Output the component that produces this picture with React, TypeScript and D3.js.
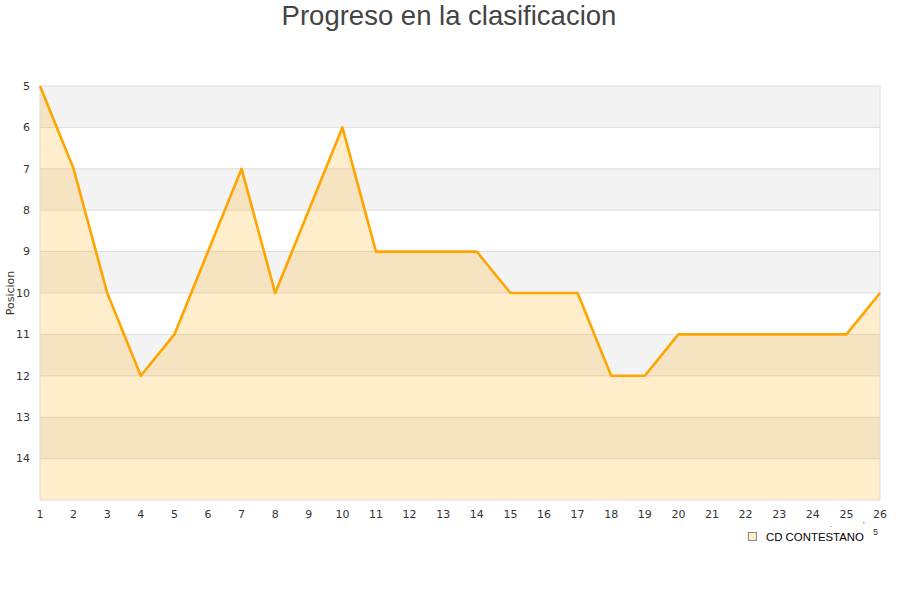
import React from "react";
import * as d3 from "d3";

const jornadas: number[] = d3.range(1, 27);
const posiciones: number[] = [5, 7, 10, 12, 11, 9, 7, 10, 8, 6, 9, 9, 9, 9, 10, 10, 10, 12, 12, 11, 11, 11, 11, 11, 11, 10];
const yTicks: number[] = [5, 6, 7, 8, 9, 10, 11, 12, 13, 14];
const bands: number[] = [5, 7, 9, 11, 13];
const title = "Progreso en la clasificacion";
const yLabel = "Posicion";
const seriesName = "CD CONTESTANO";

const W = 900, H = 600;
const M = { left: 40, right: 20, top: 86, bottom: 100 };

export default function App() {
  const x = d3.scaleLinear().domain([1, 26]).range([M.left, W - M.right]);
  const y = d3.scaleLinear().domain([5, 15]).range([M.top, H - M.bottom]);
  const line = d3.line<number>().x((_, i) => x(jornadas[i])).y((d) => y(d));
  const area = d3.area<number>().x((_, i) => x(jornadas[i])).y0(y(15)).y1((d) => y(d));
  const tickFont = "'DejaVu Sans', sans-serif";
  return (
    <svg width={W} height={H} style={{ position: "absolute", left: 0, top: 0, background: "#fff" }}>
      <text x={449} y={25} textAnchor="middle" fontFamily="'Liberation Sans', Arial, sans-serif" fontSize={27.5} fill="#444">{title}</text>
      {bands.map((b) => (
        <rect key={b} x={x(1)} y={y(b)} width={x(26) - x(1)} height={y(b + 1) - y(b)} fill="#f3f3f3" />
      ))}
      {yTicks.map((t) => (
        <line key={t} x1={x(1)} x2={x(26)} y1={y(t)} y2={y(t)} stroke="#dddddd" strokeWidth={1} />
      ))}
      <path d={area(posiciones) || ""} fill="#ffa500" fillOpacity={0.2} />
      <line x1={x(1)} x2={x(1)} y1={y(5)} y2={y(15)} stroke="#dddddd" />
      <line x1={x(26)} x2={x(26)} y1={y(5)} y2={y(15)} stroke="#dddddd" />
      <line x1={x(1)} x2={x(26)} y1={y(15)} y2={y(15)} stroke="#dddddd" />
      <path d={line(posiciones) || ""} fill="none" stroke="#ffa500" strokeWidth={2.6} strokeLinejoin="round" />
      {yTicks.map((t) => (
        <text key={t} x={30} y={y(t)} dy="0.35em" textAnchor="end" fontFamily={tickFont} fontSize={11} fill="#333">{t}</text>
      ))}
      {jornadas.map((j) => (
        <text key={j} x={x(j)} y={518} textAnchor="middle" fontFamily={tickFont} fontSize={11} fill="#333">{j}</text>
      ))}
      <text transform={`translate(14, ${(y(5) + y(15)) / 2}) rotate(-90)`} textAnchor="middle" fontFamily={tickFont} fontSize={11} fill="#333">{yLabel}</text>
      <rect x={748.5} y={532.5} width={8} height={8} fill="#ffedcc" stroke="#888" strokeWidth={1} />
      <text x={766} y={540.5} fontFamily="'Liberation Sans', Arial, sans-serif" fontSize={11.4} fill="#000">{seriesName}</text>
      <text x={873} y={535} fontFamily="'Liberation Sans', Arial, sans-serif" fontSize={9} fill="#333">5</text>
      <text x={830} y={527} fontFamily="'Liberation Sans', Arial, sans-serif" fontSize={8} fill="#333">.</text>
      <text x={863} y={527} fontFamily="'Liberation Sans', Arial, sans-serif" fontSize={8} fill="#333">'</text>
    </svg>
  );
}
